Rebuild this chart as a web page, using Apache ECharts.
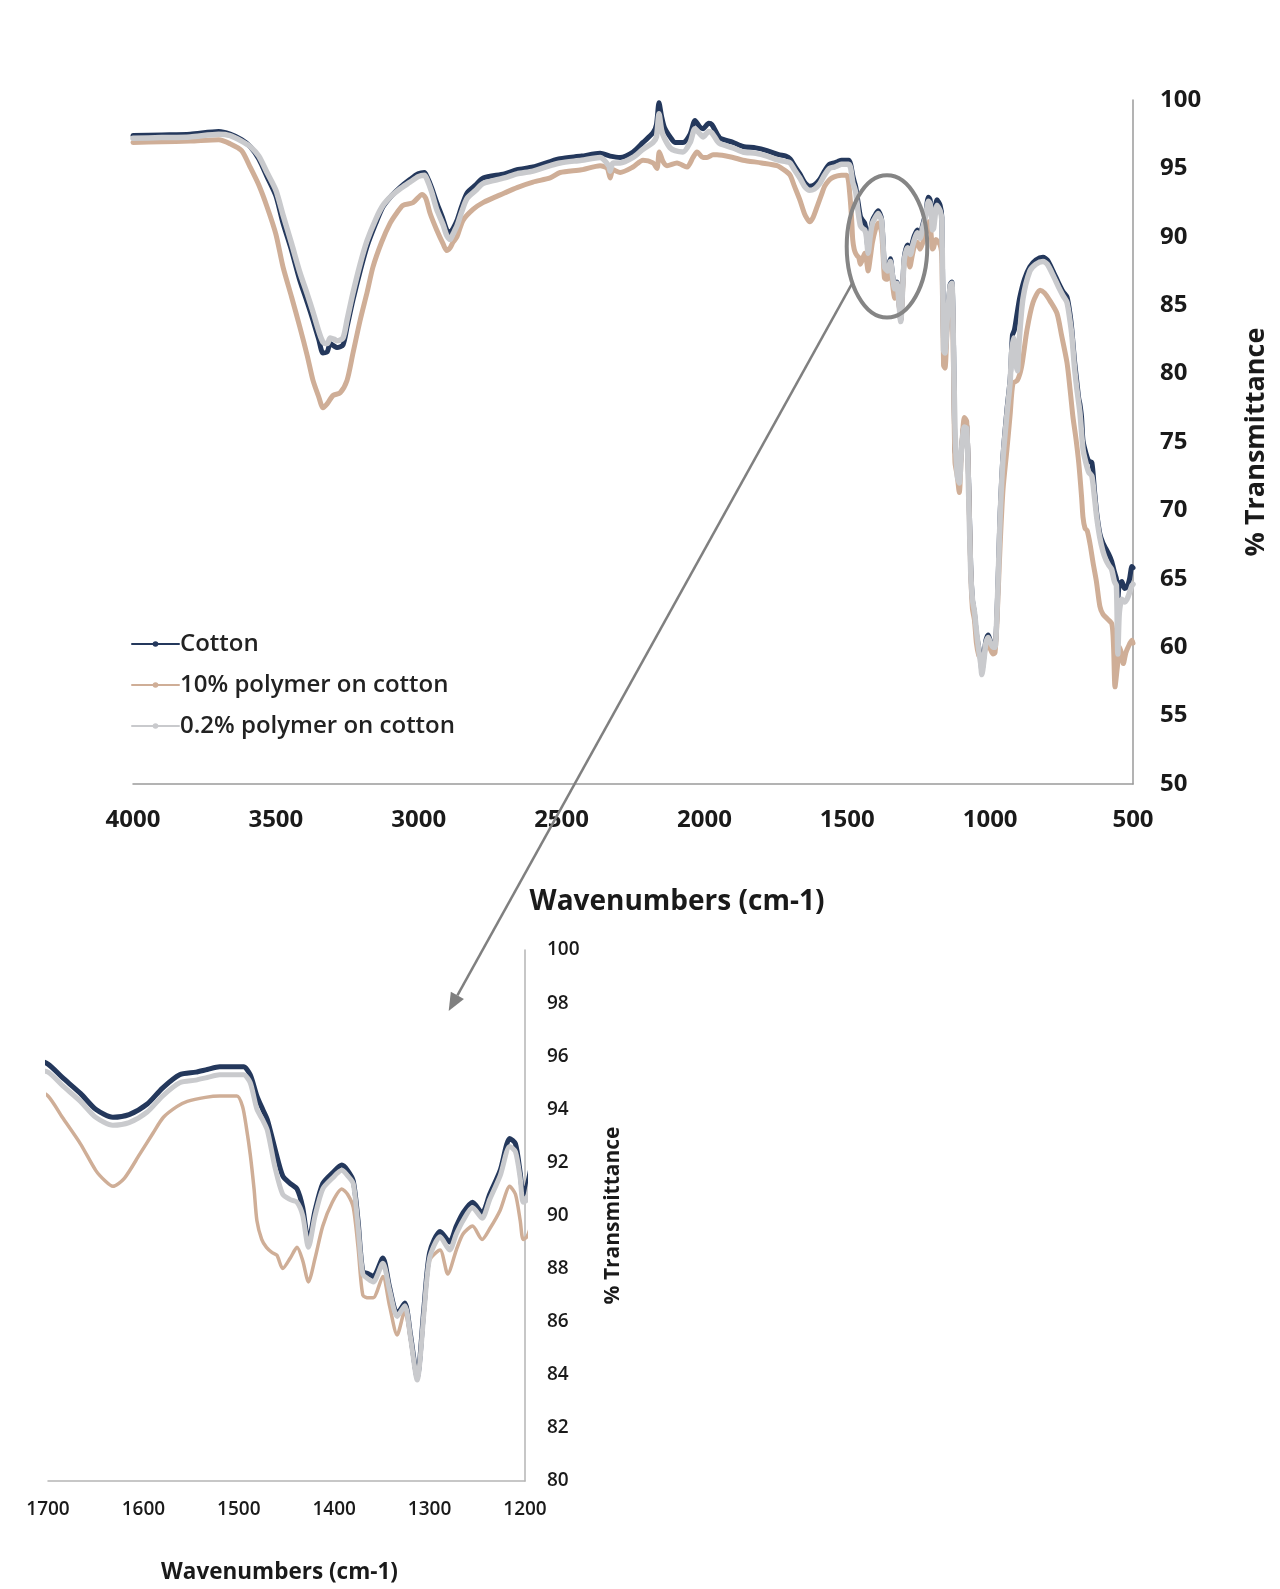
<!DOCTYPE html>
<html>
<head>
<meta charset="utf-8">
<title>FTIR spectra of cotton</title>
<script src="https://cdn.jsdelivr.net/npm/echarts@6.0.0/dist/echarts.min.js"></script>
<style>
  html, body { margin: 0; padding: 0; background: #ffffff; }
  #chart { width: 1280px; height: 1589px; }
</style>
</head>
<body>
<div id="chart"></div>
<script>
// Series names
const seriesNames = ['Cotton', '10% polymer on cotton', '0.2% polymer on cotton'];

// FTIR spectra: [wavenumber (cm-1), % transmittance]
const cotton = [
  [4000, 97.4], [3900, 97.45], [3800, 97.5], [3700, 97.7], [3660, 97.5], [3620, 97.1], [3590, 96.6],
  [3560, 95.7], [3531, 94.4], [3500, 93.0], [3475, 91.0], [3445, 89.0], [3416, 86.8], [3390, 85.2],
  [3370, 83.9], [3350, 82.5], [3335, 81.5], [3320, 81.6], [3310, 82.2], [3295, 82.0], [3286, 81.9],
  [3265, 82.1], [3250, 83.5], [3230, 85.4], [3205, 87.5], [3181, 89.3], [3150, 91.0], [3125, 92.2],
  [3095, 93.0], [3066, 93.6], [3030, 94.2], [3002, 94.6], [2980, 94.7], [2971, 94.4], [2955, 93.6],
  [2937, 92.5], [2915, 91.3], [2902, 90.5], [2890, 90.3], [2880, 90.6], [2866, 91.2], [2850, 92.2],
  [2831, 93.2], [2800, 93.8], [2775, 94.3], [2700, 94.6], [2656, 94.9], [2600, 95.1], [2540, 95.5],
  [2505, 95.7], [2430, 95.9], [2365, 96.1], [2330, 95.9], [2295, 95.8], [2250, 96.2], [2215, 96.9],
  [2180, 97.6], [2168, 98.2], [2159, 99.8], [2150, 98.8], [2140, 98.0], [2120, 97.3], [2103, 96.9],
  [2075, 96.9], [2050, 97.5], [2033, 98.5], [2015, 98.0], [2005, 97.9], [1985, 98.3], [1974, 98.2],
  [1955, 97.5], [1945, 97.2], [1900, 96.9], [1865, 96.6], [1820, 96.5], [1781, 96.3], [1740, 96.0],
  [1715, 95.9], [1700, 95.7], [1685, 95.2], [1666, 94.6], [1650, 94.0], [1632, 93.7], [1615, 93.8],
  [1596, 94.2], [1580, 94.8], [1562, 95.3], [1545, 95.4], [1533, 95.5], [1520, 95.6], [1506, 95.6],
  [1495, 95.6], [1488, 95.3], [1481, 94.5], [1475, 94.0], [1470, 93.6], [1462, 92.5], [1454, 91.5],
  [1446, 91.2], [1439, 91.0], [1433, 90.3], [1427, 89.0], [1420, 90.2], [1412, 91.2], [1402, 91.6],
  [1392, 91.9], [1386, 91.7], [1380, 91.3], [1375, 89.8], [1370, 87.9], [1364, 87.8], [1359, 87.7],
  [1349, 88.4], [1342, 87.3], [1334, 86.3], [1326, 86.7], [1320, 85.5], [1313, 83.9], [1306, 86.5],
  [1300, 88.6], [1289, 89.4], [1279, 89.0], [1272, 89.6], [1265, 90.1], [1255, 90.5], [1245, 90.1],
  [1237, 90.8], [1226, 91.7], [1216, 92.9], [1210, 92.7], [1205, 91.6], [1202, 90.8], [1198, 91.1],
  [1186, 92.7], [1175, 92.3], [1169, 91.4], [1163, 82.0], [1158, 81.5], [1150, 84.0], [1140, 86.5],
  [1134, 86.7], [1128, 82.0], [1123, 74.4], [1115, 73.5], [1108, 72.6], [1100, 74.5], [1090, 76.3],
  [1082, 76.2], [1075, 72.0], [1068, 66.0], [1062, 63.5], [1055, 62.5], [1048, 61.0], [1040, 60.0],
  [1033, 59.2], [1029, 58.2], [1022, 59.3], [1015, 60.5], [1007, 60.9], [998, 60.4], [990, 60.2],
  [983, 60.2], [977, 62.0], [970, 66.5], [965, 69.8], [955, 74.0], [941, 77.4], [930, 79.6],
  [922, 82.8], [915, 83.2], [905, 84.5], [896, 85.6], [880, 86.9], [861, 87.8], [840, 88.3],
  [815, 88.5], [800, 88.3], [780, 87.5], [760, 86.6], [745, 86.0], [731, 85.6], [720, 84.3],
  [714, 83.2], [705, 81.0], [696, 79.3], [690, 78.2], [686, 77.8], [680, 76.8], [675, 75.1],
  [665, 74.2], [655, 73.6], [644, 73.5], [635, 71.5], [627, 69.8], [616, 68.3], [605, 67.6],
  [595, 67.2], [585, 66.8], [575, 66.3], [565, 65.5], [558, 65.0], [553, 63.5], [548, 64.6],
  [539, 64.8], [530, 64.3], [521, 64.4], [512, 65.0], [504, 65.9], [500, 65.8]
];

const polymer10 = [
  [4000, 96.9], [3900, 96.95], [3800, 97.0], [3700, 97.1], [3660, 96.8], [3620, 96.3], [3590, 95.1],
  [3560, 93.8], [3531, 92.2], [3500, 90.2], [3475, 87.8], [3445, 85.6], [3416, 83.4], [3390, 81.3],
  [3370, 79.5], [3350, 78.3], [3335, 77.5], [3320, 77.8], [3300, 78.4], [3275, 78.6], [3251, 79.5],
  [3230, 81.5], [3205, 83.9], [3180, 86.0], [3160, 87.8], [3130, 89.6], [3100, 91.0], [3075, 91.8],
  [3055, 92.3], [3020, 92.5], [2988, 93.1], [2975, 92.8], [2960, 91.7], [2937, 90.5], [2915, 89.5],
  [2902, 89.0], [2890, 89.2], [2880, 89.6], [2866, 90.0], [2845, 91.2], [2810, 92.0], [2775, 92.5],
  [2700, 93.2], [2656, 93.6], [2600, 94.0], [2540, 94.3], [2505, 94.7], [2430, 94.9], [2365, 95.2],
  [2340, 95.0], [2330, 94.3], [2320, 94.9], [2295, 94.7], [2250, 95.1], [2215, 95.6], [2180, 95.4],
  [2166, 95.0], [2158, 96.2], [2145, 95.5], [2131, 95.2], [2096, 95.4], [2061, 95.1], [2040, 95.8],
  [2026, 96.2], [2005, 95.8], [1991, 95.8], [1970, 96.0], [1956, 96.0], [1900, 95.8], [1865, 95.6],
  [1800, 95.4], [1746, 95.2], [1715, 94.8], [1700, 94.5], [1685, 93.7], [1666, 92.7], [1650, 91.7],
  [1640, 91.3], [1632, 91.1], [1620, 91.4], [1604, 92.3], [1590, 93.1], [1579, 93.7], [1565, 94.1],
  [1554, 94.3], [1535, 94.45], [1520, 94.5], [1502, 94.5], [1496, 94.1], [1492, 93.3], [1488, 92.3],
  [1484, 91.0], [1481, 89.8], [1476, 89.1], [1471, 88.8], [1465, 88.6], [1460, 88.5], [1454, 88.0],
  [1446, 88.4], [1439, 88.8], [1433, 88.3], [1427, 87.5], [1420, 88.4], [1412, 89.6], [1402, 90.5],
  [1392, 91.0], [1386, 90.8], [1380, 90.3], [1375, 88.8], [1370, 87.0], [1364, 86.9], [1359, 86.9],
  [1349, 87.7], [1342, 86.6], [1334, 85.5], [1326, 86.4], [1320, 85.3], [1313, 83.9], [1306, 86.2],
  [1300, 88.3], [1289, 88.7], [1281, 87.8], [1272, 88.7], [1265, 89.3], [1255, 89.6], [1245, 89.1],
  [1237, 89.5], [1226, 90.2], [1216, 91.1], [1210, 90.8], [1205, 89.8], [1202, 89.1], [1198, 89.2],
  [1190, 89.8], [1175, 89.4], [1169, 88.5], [1163, 80.6], [1158, 80.4], [1150, 83.5], [1140, 85.8],
  [1134, 86.0], [1128, 80.0], [1123, 73.5], [1115, 72.5], [1108, 71.3], [1100, 74.5], [1090, 76.8],
  [1082, 76.5], [1075, 71.5], [1068, 65.5], [1062, 62.8], [1055, 62.0], [1048, 60.3], [1040, 59.4],
  [1033, 59.2], [1029, 59.0], [1022, 59.4], [1015, 60.0], [1007, 60.2], [998, 59.8], [990, 59.5],
  [983, 59.6], [977, 61.5], [970, 65.0], [965, 67.5], [955, 71.5], [941, 74.5], [930, 77.0],
  [920, 79.3], [905, 79.5], [890, 80.5], [871, 83.2], [850, 85.2], [825, 86.1], [810, 85.9],
  [790, 85.3], [766, 84.4], [750, 82.8], [731, 80.8], [720, 78.8], [710, 76.8], [700, 75.3],
  [690, 73.5], [680, 71.0], [675, 69.5], [668, 68.7], [660, 68.5], [650, 67.5], [640, 66.2],
  [628, 64.8], [616, 63.0], [605, 62.4], [591, 62.1], [574, 61.7], [568, 60.0], [563, 57.1],
  [555, 58.5], [546, 60.0], [540, 59.5], [534, 58.8], [525, 59.6], [517, 60.0], [504, 60.5], [500, 60.3]
];

const polymer02 = [
  [4000, 97.2], [3900, 97.25], [3800, 97.3], [3700, 97.5], [3660, 97.4], [3620, 97.0], [3590, 96.6],
  [3560, 95.9], [3531, 94.7], [3500, 93.4], [3475, 91.6], [3445, 89.5], [3416, 87.4], [3390, 85.8],
  [3370, 84.5], [3350, 83.1], [3335, 82.3], [3320, 82.2], [3310, 82.6], [3295, 82.5], [3286, 82.4],
  [3265, 82.6], [3250, 84.0], [3230, 85.9], [3205, 88.0], [3181, 89.7], [3150, 91.3], [3125, 92.3],
  [3095, 93.0], [3066, 93.5], [3030, 94.0], [3002, 94.4], [2980, 94.5], [2971, 94.2], [2955, 93.3],
  [2937, 92.0], [2915, 90.9], [2902, 90.1], [2890, 89.8], [2880, 90.2], [2866, 90.8], [2850, 91.8],
  [2831, 92.8], [2800, 93.4], [2775, 93.9], [2700, 94.3], [2656, 94.6], [2600, 94.8], [2540, 95.2],
  [2505, 95.4], [2430, 95.6], [2365, 95.8], [2335, 95.2], [2330, 94.8], [2320, 95.4], [2295, 95.4],
  [2250, 95.8], [2215, 96.4], [2180, 96.9], [2168, 97.3], [2159, 99.0], [2150, 97.8], [2140, 97.2],
  [2120, 96.5], [2103, 96.3], [2075, 96.2], [2050, 96.9], [2033, 97.9], [2015, 97.5], [2005, 97.3],
  [1985, 97.7], [1974, 97.6], [1955, 97.0], [1945, 96.8], [1900, 96.5], [1865, 96.2], [1820, 96.1],
  [1781, 95.9], [1740, 95.6], [1715, 95.5], [1700, 95.4], [1685, 94.9], [1666, 94.3], [1650, 93.7],
  [1632, 93.4], [1615, 93.5], [1596, 93.9], [1580, 94.5], [1562, 95.0], [1545, 95.1], [1533, 95.2],
  [1520, 95.3], [1506, 95.3], [1495, 95.3], [1488, 95.0], [1481, 94.0], [1475, 93.6], [1470, 93.2],
  [1462, 91.8], [1454, 90.8], [1446, 90.6], [1439, 90.5], [1433, 90.0], [1427, 88.8], [1420, 90.0],
  [1412, 91.0], [1402, 91.4], [1392, 91.7], [1386, 91.5], [1380, 91.2], [1375, 89.6], [1370, 87.8],
  [1364, 87.6], [1359, 87.5], [1349, 88.2], [1342, 87.2], [1334, 86.2], [1326, 86.6], [1320, 85.4],
  [1313, 83.8], [1306, 86.3], [1300, 88.4], [1289, 89.2], [1279, 88.7], [1272, 89.3], [1265, 89.8],
  [1255, 90.3], [1245, 89.9], [1237, 90.6], [1226, 91.5], [1216, 92.6], [1210, 92.4], [1205, 91.4],
  [1202, 90.5], [1198, 90.6], [1186, 92.3], [1175, 91.9], [1169, 91.2], [1163, 81.7], [1158, 81.5],
  [1150, 84.0], [1140, 86.4], [1134, 86.6], [1128, 81.5], [1123, 76.0], [1115, 72.5], [1108, 72.0],
  [1100, 74.5], [1090, 76.1], [1082, 76.0], [1075, 71.0], [1068, 65.5], [1062, 63.5], [1055, 62.6],
  [1048, 61.2], [1040, 59.8], [1033, 58.8], [1029, 58.0], [1022, 59.0], [1015, 60.3], [1007, 60.7],
  [998, 60.3], [990, 60.0], [983, 60.0], [977, 62.0], [970, 66.3], [965, 69.6], [955, 73.8],
  [941, 77.1], [930, 79.4], [925, 81.5], [918, 82.6], [912, 81.0], [905, 80.2], [898, 82.5],
  [885, 85.5], [861, 87.5], [840, 88.0], [815, 88.2], [800, 88.0], [780, 87.2], [760, 86.3],
  [745, 85.7], [731, 85.2], [720, 83.8], [714, 82.8], [705, 80.5], [696, 78.8], [686, 77.2],
  [675, 74.5], [665, 73.5], [655, 72.8], [644, 72.5], [635, 71.0], [627, 69.5], [616, 68.0],
  [605, 67.0], [595, 66.4], [585, 66.0], [575, 65.7], [565, 64.8], [558, 64.5], [553, 59.5],
  [548, 62.5], [539, 63.5], [530, 63.3], [521, 63.5], [512, 64.0], [504, 64.5], [500, 64.6]
];

// Axis ranges [min, max, interval]: full spectrum and the expanded fingerprint window
const mainWavenumberRange = [500, 4000, 500];
const mainTransmittanceRange = [50, 100, 5];
const insetWavenumberRange = [1200, 1700, 100];
const insetTransmittanceRange = [80, 100, 2];

// Circled region on the full spectrum and the arrow to the expanded view
const circledRegion = { center: [1361, 89.3], halfSize: [141, 5.2] };
const arrowFrom = [1483, 86.6];
const arrowTo = [1280, 97.7];

const colors = ['#24385c', '#cfae97', '#c9cacd'];
const FONT = '"Open Sans", "Liberation Sans", sans-serif';
const TEXT = '#1a1a1a';
const plainNumber = (v) => String(v);

function spectrumSeries(gridIdx, widths) {
  const sets = [cotton, polymer10, polymer02];
  return sets.map((d, i) => ({
    name: seriesNames[i],
    type: 'line',
    xAxisIndex: gridIdx,
    yAxisIndex: gridIdx,
    data: d,
    symbol: 'circle',
    symbolSize: 4,
    showSymbol: false,
    smooth: 0.25,
    clip: true,
    silent: true,
    lineStyle: { color: colors[i], width: widths[i], cap: 'round', join: 'round' },
    itemStyle: { color: colors[i] },
    emphasis: { disabled: true },
    z: 2 + i
  }));
}

const option = {
  backgroundColor: '#ffffff',
  animation: false,
  textStyle: { fontFamily: FONT },
  legend: {
    orient: 'vertical',
    left: 126,
    top: 627,
    itemWidth: 47,
    itemHeight: 7,
    itemGap: 17,
    data: seriesNames,
    selectedMode: false,
    lineStyle: { width: 2 },
    textStyle: { fontFamily: FONT, fontSize: 24, fontWeight: 600, color: '#222222', padding: [0, 0, 0, -4] }
  },
  grid: [
    { left: 133, top: 100, width: 1000, height: 684, outerBoundsMode: 'none', containLabel: false },
    { left: 48, top: 950, width: 477, height: 531, outerBoundsMode: 'none', containLabel: false }
  ],
  xAxis: [
    {
      type: 'value', gridIndex: 0, inverse: true,
      min: mainWavenumberRange[0], max: mainWavenumberRange[1], interval: mainWavenumberRange[2],
      axisLine: { show: true, onZero: false, lineStyle: { color: '#9a9a9a', width: 1.5 } },
      axisTick: { show: false }, splitLine: { show: false },
      axisLabel: { margin: 24, fontSize: 24, fontWeight: 'bold', color: TEXT, fontFamily: FONT, formatter: plainNumber },
      name: 'Wavenumbers (cm-1)', nameLocation: 'middle', nameGap: 104,
      nameTextStyle: { fontSize: 28, fontWeight: 'bold', color: TEXT, fontFamily: FONT, padding: [0, 0, 0, 88] }
    },
    {
      type: 'value', gridIndex: 1, inverse: true,
      min: insetWavenumberRange[0], max: insetWavenumberRange[1], interval: insetWavenumberRange[2],
      axisLine: { show: true, onZero: false, lineStyle: { color: '#b5b5b5', width: 1.5 } },
      axisTick: { show: false }, splitLine: { show: false },
      axisLabel: { margin: 19, fontSize: 19, fontWeight: 600, color: TEXT, fontFamily: FONT, formatter: plainNumber },
      name: 'Wavenumbers (cm-1)', nameLocation: 'middle', nameGap: 80,
      nameTextStyle: { fontSize: 22.5, fontWeight: 'bold', color: TEXT, fontFamily: FONT, padding: [0, 14, 0, 0] }
    }
  ],
  yAxis: [
    {
      type: 'value', gridIndex: 0, position: 'right',
      min: mainTransmittanceRange[0], max: mainTransmittanceRange[1], interval: mainTransmittanceRange[2],
      axisLine: { show: true, onZero: false, lineStyle: { color: '#9a9a9a', width: 1.5 } },
      axisTick: { show: false }, splitLine: { show: false },
      axisLabel: { margin: 27, fontSize: 24, fontWeight: 'bold', color: TEXT, fontFamily: FONT, formatter: plainNumber },
      name: '% Transmittance', nameLocation: 'middle', nameGap: 110, nameRotate: 90,
      nameTextStyle: { fontSize: 27, fontWeight: 'bold', color: TEXT, fontFamily: FONT }
    },
    {
      type: 'value', gridIndex: 1, position: 'right',
      min: insetTransmittanceRange[0], max: insetTransmittanceRange[1], interval: insetTransmittanceRange[2],
      axisLine: { show: true, onZero: false, lineStyle: { color: '#b5b5b5', width: 1.5 } },
      axisTick: { show: false }, splitLine: { show: false },
      axisLabel: { margin: 22, fontSize: 19, fontWeight: 600, color: TEXT, fontFamily: FONT, formatter: plainNumber },
      name: '% Transmittance', nameLocation: 'middle', nameGap: 78, nameRotate: 90,
      nameTextStyle: { fontSize: 21, fontWeight: 'bold', color: TEXT, fontFamily: FONT }
    }
  ],
  series: [].concat(spectrumSeries(0, [5, 5, 5.5]), spectrumSeries(1, [5, 3.5, 5]))
};

const chart = echarts.init(document.getElementById('chart'), null, { renderer: 'canvas' });
chart.setOption(option);

// Ellipse around the fingerprint region and the arrow pointing to its expanded view
function drawCallout() {
  const c = chart.convertToPixel({ gridIndex: 0 }, circledRegion.center);
  const e = chart.convertToPixel({ gridIndex: 0 }, [
    circledRegion.center[0] + circledRegion.halfSize[0],
    circledRegion.center[1] + circledRegion.halfSize[1]
  ]);
  const rx = Math.abs(e[0] - c[0]);
  const ry = Math.abs(e[1] - c[1]);
  const a = chart.convertToPixel({ gridIndex: 0 }, arrowFrom);
  const b = chart.convertToPixel({ gridIndex: 1 }, arrowTo);
  const dx = b[0] - a[0], dy = b[1] - a[1];
  const len = Math.sqrt(dx * dx + dy * dy);
  const ux = dx / len, uy = dy / len;
  const headLen = 18, headHalf = 7.5;
  const bx = b[0] - ux * headLen, by = b[1] - uy * headLen;
  const nx = -uy, ny = ux;
  chart.setOption({
    graphic: [
      {
        type: 'ellipse', silent: true, z: 20,
        shape: { cx: c[0], cy: c[1], rx: rx, ry: ry },
        style: { fill: 'none', stroke: '#858585', lineWidth: 4 }
      },
      {
        type: 'line', silent: true, z: 20,
        shape: { x1: a[0], y1: a[1], x2: bx, y2: by },
        style: { stroke: '#808080', lineWidth: 2.5 }
      },
      {
        type: 'polygon', silent: true, z: 20,
        shape: { points: [[b[0], b[1]], [bx + nx * headHalf, by + ny * headHalf], [bx - nx * headHalf, by - ny * headHalf]] },
        style: { fill: '#808080' }
      }
    ]
  });
}
drawCallout();
</script>
</body>
</html>
